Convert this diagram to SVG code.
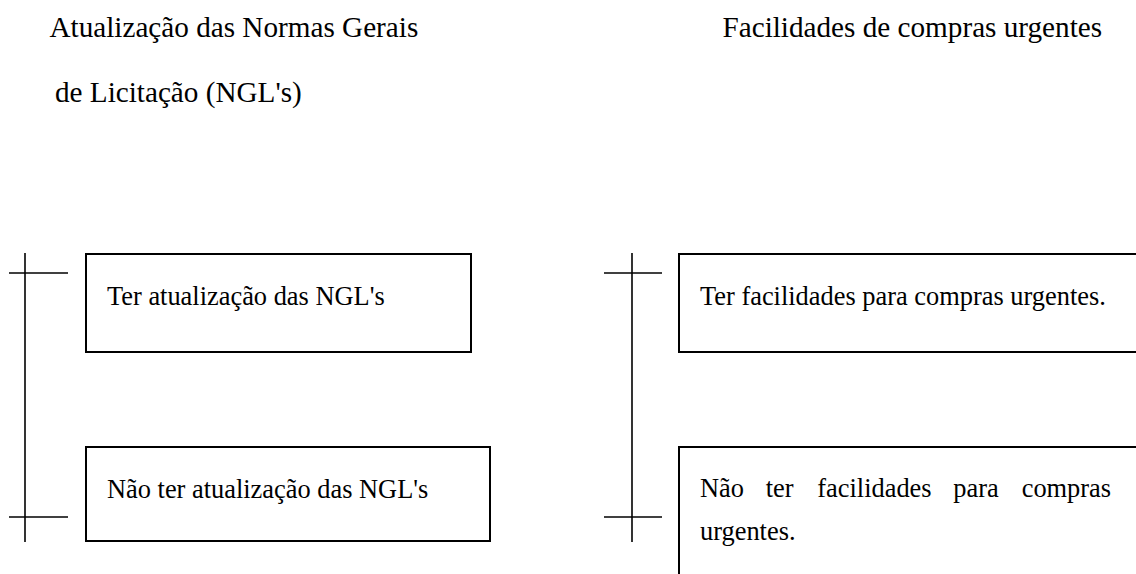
<svg xmlns="http://www.w3.org/2000/svg" width="1136" height="574" viewBox="0 0 1136 574">
<style>
.hdr{font-family:"Liberation Serif","Times New Roman",serif;font-size:29.2px;fill:#000}
.txt{font-family:"Liberation Serif","Times New Roman",serif;font-size:26.4px;fill:#000}
.box{fill:#fff;stroke:#000;stroke-width:2}
.ln{stroke:#000;stroke-width:1.6;fill:none}
</style>
<rect width="1136" height="574" fill="#fff"/>
<g id="header-left">
<text class="hdr" x="49.5" y="37">Atualização das Normas Gerais</text>
<text class="hdr" x="55" y="102">de Licitação (NGL's)</text>
</g>
<g id="header-right">
<text class="hdr" x="722.5" y="37">Facilidades de compras urgentes</text>
</g>
<g id="connectors">
<line class="ln" x1="25" y1="253" x2="25" y2="542"/>
<line class="ln" x1="9" y1="273" x2="68" y2="273"/>
<line class="ln" x1="9" y1="517" x2="68" y2="517"/>
<line class="ln" x1="632" y1="253" x2="632" y2="542"/>
<line class="ln" x1="604" y1="273" x2="662" y2="273"/>
<line class="ln" x1="604" y1="517" x2="662" y2="517"/>
</g>
<g id="node-left-1">
<rect class="box" x="86" y="254" width="385" height="98"/>
<text class="txt" x="107" y="305">Ter atualização das NGL's</text>
</g>
<g id="node-left-2">
<rect class="box" x="86" y="447" width="404" height="94"/>
<text class="txt" x="107" y="498">Não ter atualização das NGL's</text>
</g>
<g id="node-right-1">
<rect class="box" x="679" y="254" width="470" height="98"/>
<text class="txt" x="700" y="305">Ter facilidades para compras urgentes.</text>
</g>
<g id="node-right-2">
<rect class="box" x="679" y="447" width="470" height="140"/>
<text class="txt" y="497"><tspan x="700">Não</tspan><tspan x="765.7">ter</tspan><tspan x="817.3">facilidades</tspan><tspan x="953.3">para</tspan><tspan x="1021.7">compras</tspan></text>
<text class="txt" x="700" y="540">urgentes.</text>
</g>
</svg>
